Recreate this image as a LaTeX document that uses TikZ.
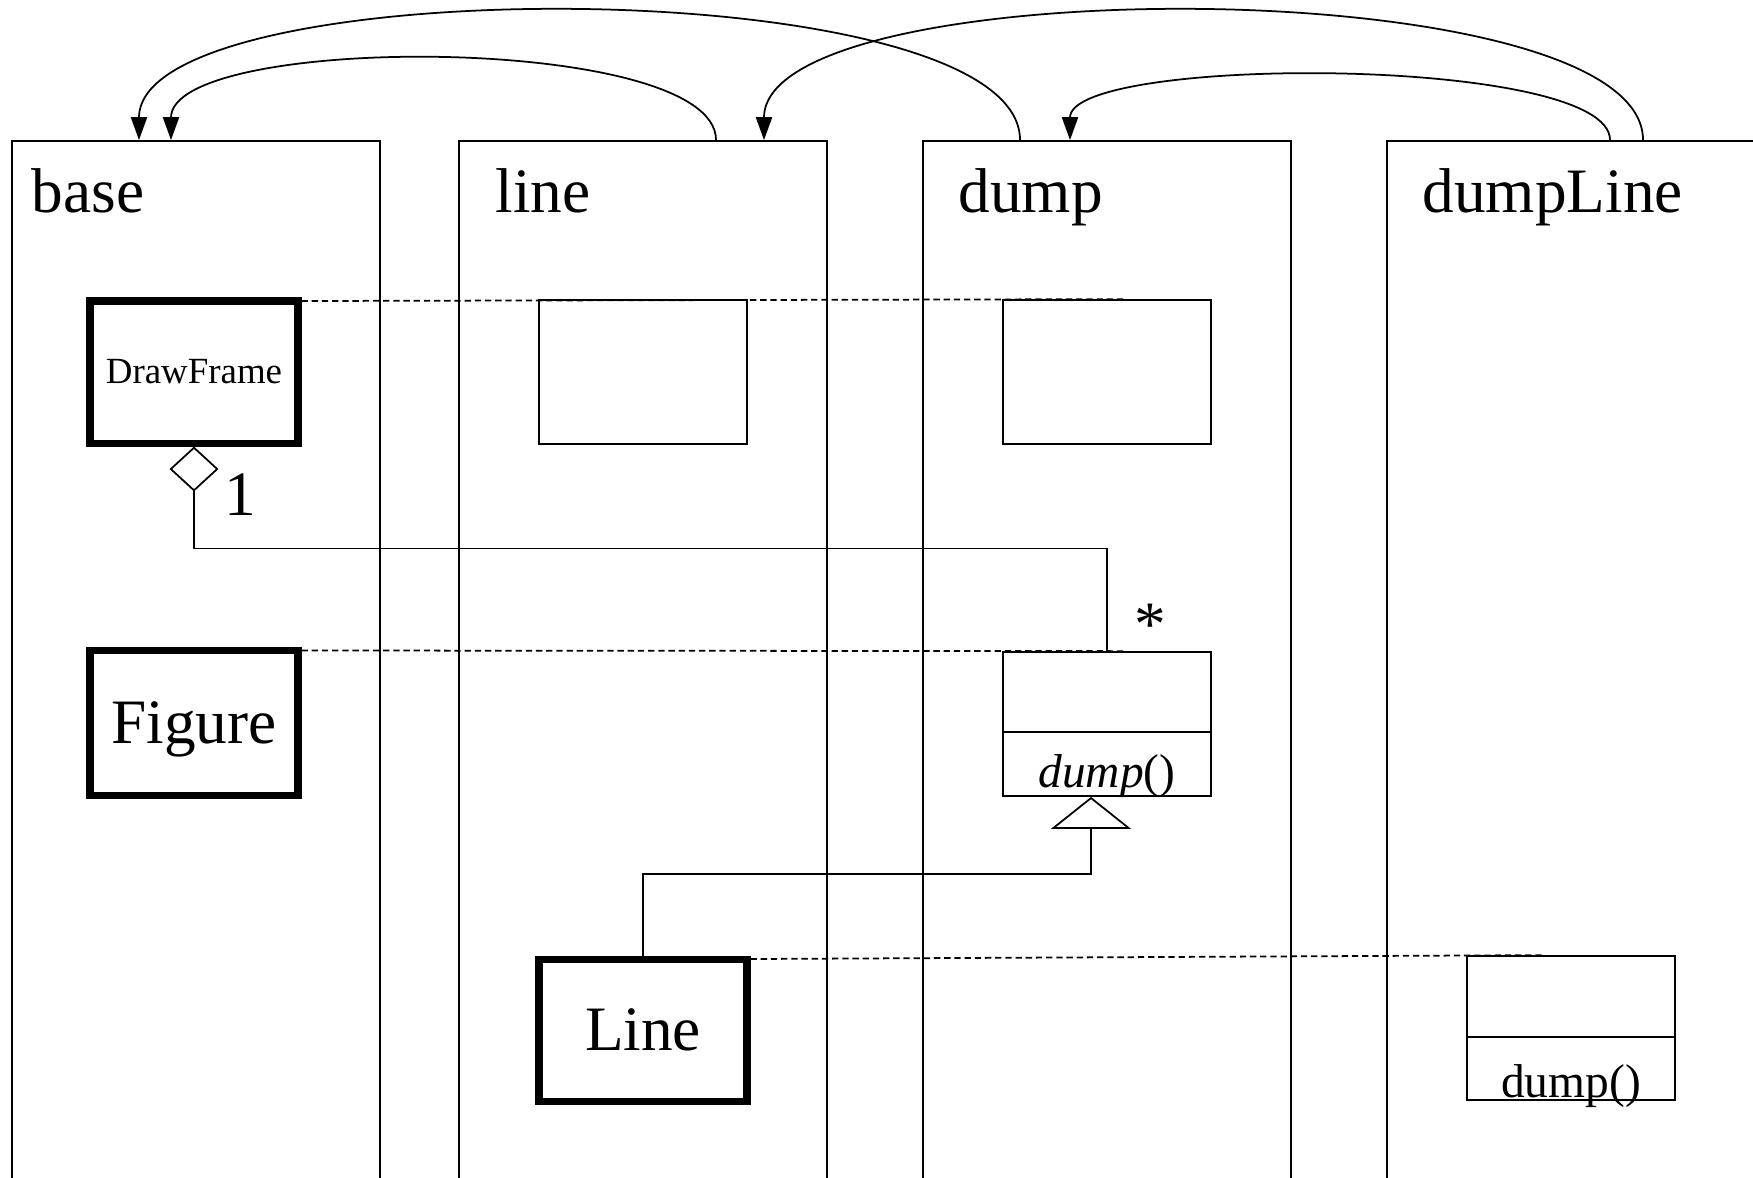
\documentclass[tikz,border=0pt]{standalone}
\usepackage{fontspec}
\setmainfont{Liberation Serif}
\usetikzlibrary{arrows.meta,calc}

\tikzset{
  pkg/.style={draw, rectangle, anchor=north west, minimum width=3.68cm, minimum height=11cm, inner sep=0pt, line width=0.5pt},
  pkgname/.style={anchor=base west, inner sep=0pt, font=\fontsize{18}{20}\selectfont},
  cls/.style={draw, rectangle, minimum width=2.08cm, minimum height=1.42cm, inner sep=0pt, line width=2pt},
  box/.style={draw, rectangle, minimum width=2.08cm, minimum height=1.44cm, inner sep=0pt, line width=0.5pt},
  trace/.style={dash pattern=on 1.8pt off 1.1pt, line width=0.5pt},
  dep/.style={-{Triangle[length=6.5pt,width=4.6pt]}, line width=0.5pt},
}

\begin{document}
\begin{tikzpicture}
	%%%%% START %%%%%
	\path[clip, use as bounding box] (0,0) rectangle (17.53,-11.77);
	
	% packages
	\node[pkg] (base) at (0.11,-1.40) {};
	\node[pkg] (line) at (4.58,-1.40) {};
	\node[pkg] (dump) at (9.22,-1.40) {};
	\node[pkg] (dumpLine) at (13.86,-1.40) {};
	
	\node[pkgname] (basename) at (0.31,-2.12) {base};
	\node[pkgname] (linename) at (4.95,-2.12) {line};
	\node[pkgname] (dumpname) at (9.58,-2.12) {dump};
	\node[pkgname] (dumpLinename) at (14.22,-2.12) {dumpLine};
	
	% imports
	\draw[dep] ([xshift=2.58cm]line.north west) .. controls +(0,1.07) and +(0,1.07) .. ([xshift=1.60cm]base.north west);
	\draw[dep] ([xshift=0.98cm]dump.north west) .. controls +(0,1.71) and +(0,1.71) .. ([xshift=1.28cm]base.north west);
	\draw[dep] ([xshift=2.57cm]dumpLine.north west) .. controls +(0,1.71) and +(0,1.71) .. ([xshift=3.06cm]line.north west);
	\draw[dep] ([xshift=2.24cm]dumpLine.north west) .. controls +(0,0.85) and +(0,0.85) .. ([xshift=1.48cm]dump.north west);
	
	% classes
	\node[cls, font=\fontsize{10.5}{12}\selectfont] (drawframe) at (1.94,-3.72) {DrawFrame};
	\node[box] (linebox) at (6.43,-3.72) {};
	\node[box] (dumpbox) at (11.07,-3.72) {};
	
	\node[cls, minimum height=1.45cm, text depth=0pt, font=\fontsize{18}{20}\selectfont] (figure) at (1.94,-7.23) {Figure};
	\node[box] (dumpcls) at (11.07,-7.24) {};
	\draw[line width=0.5pt] ([yshift=-0.08cm]dumpcls.west) -- ([yshift=-0.08cm]dumpcls.east);
	\node[anchor=base, inner sep=0pt, font=\fontsize{13.5}{15}\selectfont] (dumpop) at ([yshift=0.09cm]dumpcls.south) {\textit{dump}()};
	
	\node[cls, font=\fontsize{18}{20}\selectfont] (lineclass) at (6.43,-10.30) {Line};
	\node[box] (dumplinecls) at (15.71,-10.28) {};
	\draw[line width=0.5pt] ([yshift=-0.09cm]dumplinecls.west) -- ([yshift=-0.09cm]dumplinecls.east);
	\node[anchor=base, inner sep=0pt, font=\fontsize{13.5}{15}\selectfont] (dumplineop) at ([yshift=0.03cm]dumplinecls.south) {dump()};
	
	% traces
	\draw[trace] ([yshift=-1pt]drawframe.north east) -- ([xshift=0.20cm]dumpbox.north);
	\draw[trace] ([yshift=-1pt]figure.north east) -- ([xshift=0.20cm]dumpcls.north);
	\draw[trace] ([yshift=-1pt]lineclass.north east) -- ([xshift=-0.28cm]dumplinecls.north);
	
	% aggregation
	\draw[{Diamond[open,length=0.45cm,width=0.49cm]}-, line width=0.5pt] (drawframe.south) -- ++(0,-1.02) -| (dumpcls.north);
	\node[anchor=base west, inner sep=0pt, font=\fontsize{18}{20}\selectfont] (one) at (2.24,-5.15) {1};
	\node[anchor=base, inner sep=0pt, font=\fontsize{18}{20}\selectfont] (many) at (11.50,-6.45) {*};
	
	% generalization
	\draw[-{Triangle[open,length=0.32cm,width=0.80cm]}, line width=0.5pt] (lineclass.north) -- ++(0,0.815) -| ([xshift=-0.16cm]dumpcls.south);
	%%%%% END %%%%%
\end{tikzpicture}
\end{document}
